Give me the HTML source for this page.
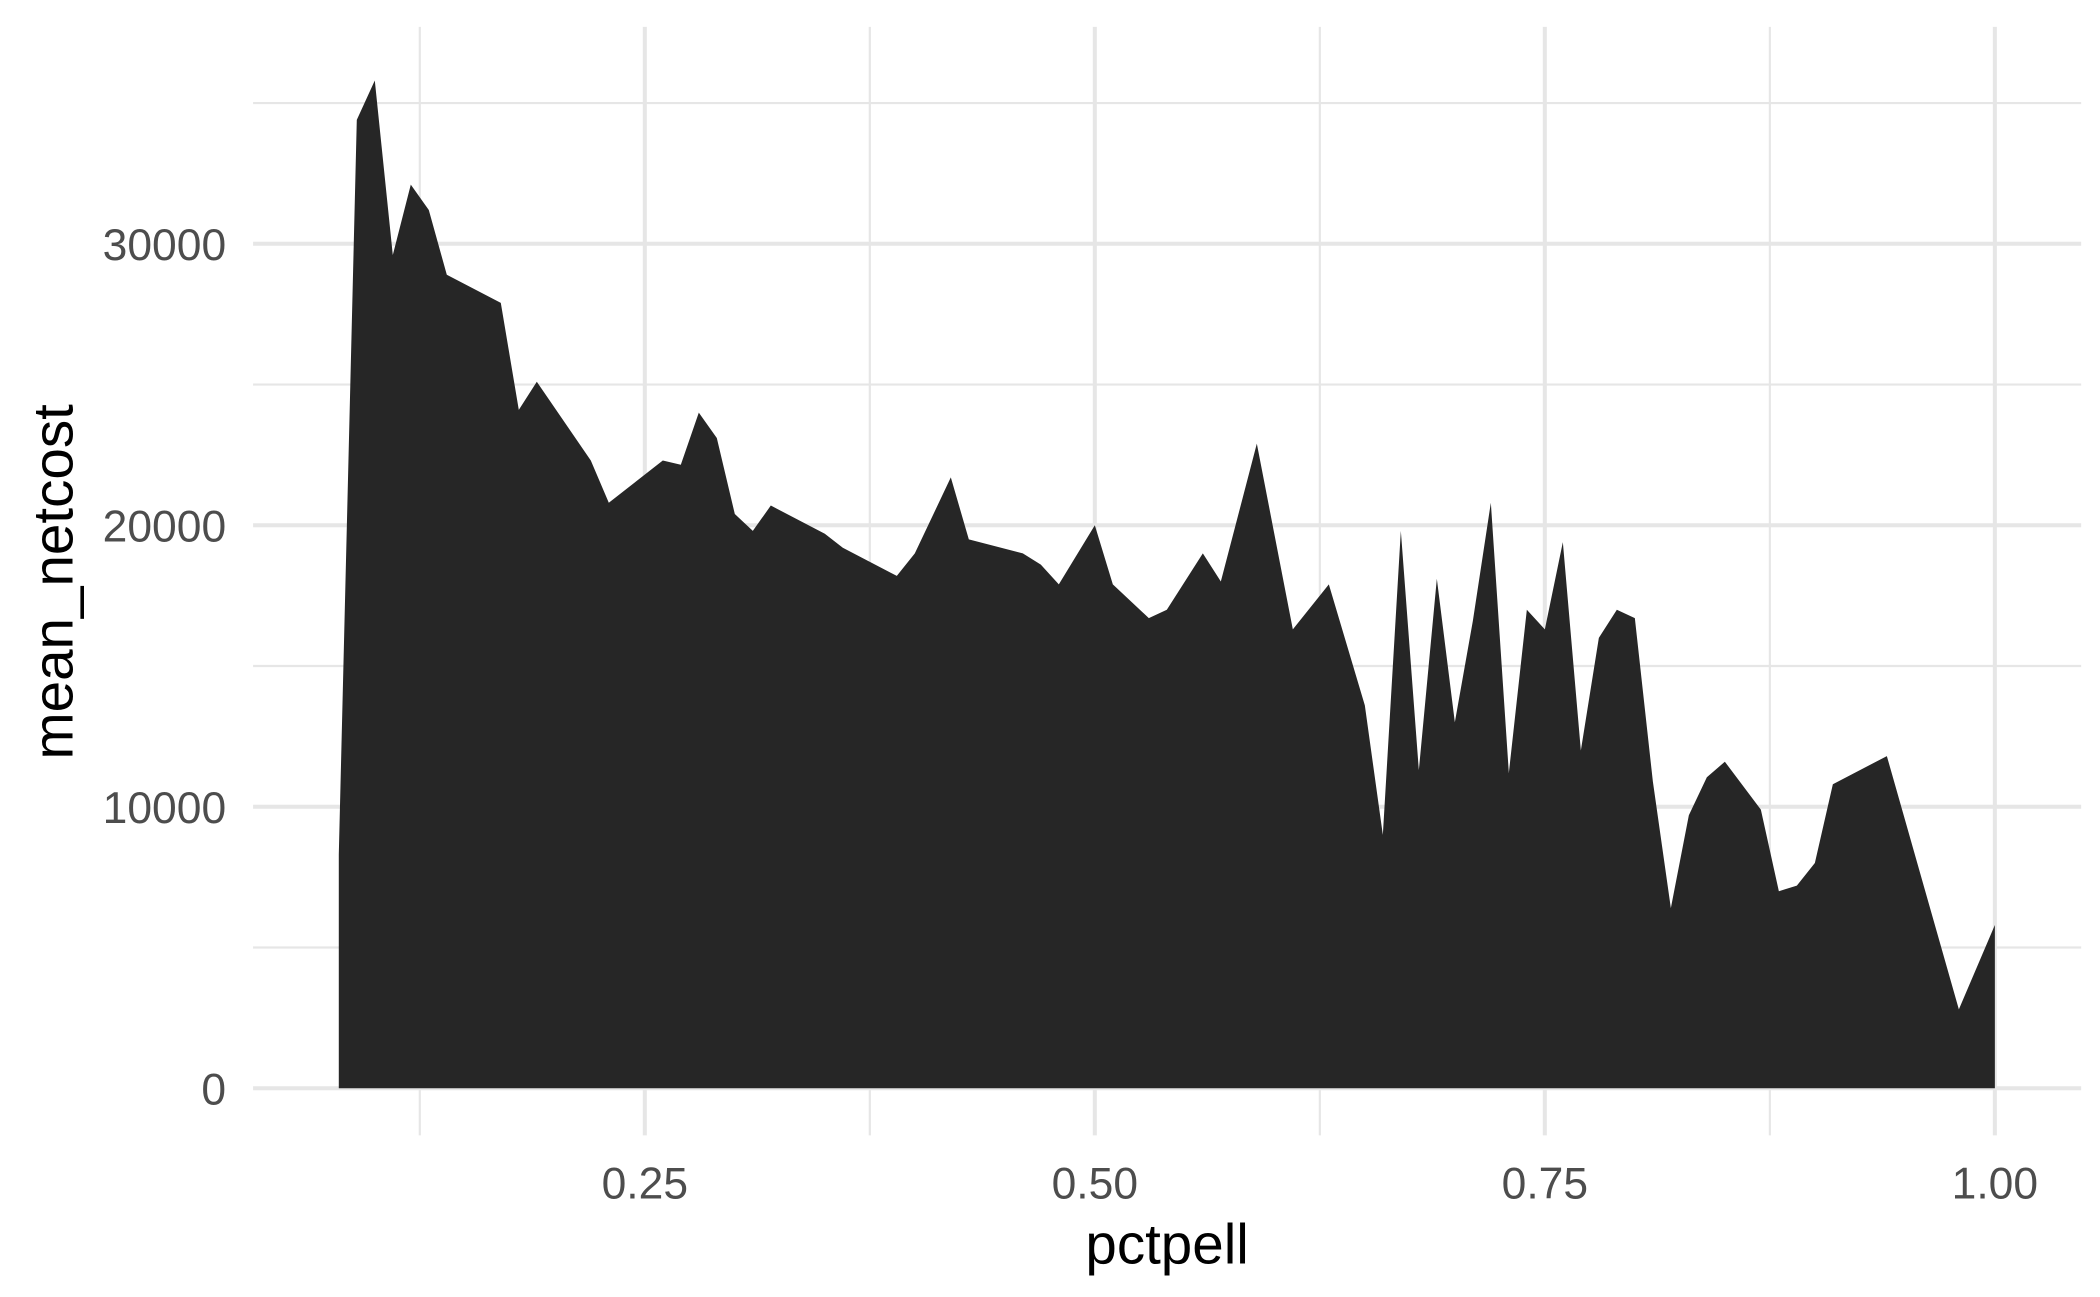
<!DOCTYPE html>
<html><head><meta charset="utf-8"><style>
html,body{margin:0;padding:0;background:#fff;}
svg{display:block;font-family:"Liberation Sans",sans-serif;}
</style></head><body>
<svg id="chart" width="2100" height="1297" viewBox="0 0 1560 963" preserveAspectRatio="none" xmlns="http://www.w3.org/2000/svg">
<g id="grid"></g>
<path id="area" fill="#262626"></path>
<g id="axes"></g>
<text x="867" y="938" text-anchor="middle" font-size="42" fill="#000">pctpell</text>
<text transform="translate(54,432) rotate(-90)" text-anchor="middle" font-size="42" fill="#000">mean_netcost</text>
</svg>
<script>
const pctpell = [0.08,0.09,0.10,0.11,0.12,0.13,0.14,0.17,0.18,0.19,0.22,0.23,0.26,0.27,0.28,0.29,0.30,0.31,0.32,0.35,0.36,0.39,0.40,0.42,0.43,0.46,0.47,0.48,0.50,0.51,0.53,0.54,0.56,0.57,0.59,0.61,0.63,0.65,0.66,0.67,0.68,0.69,0.70,0.71,0.72,0.73,0.74,0.75,0.76,0.77,0.78,0.79,0.80,0.81,0.82,0.83,0.84,0.85,0.87,0.88,0.89,0.90,0.91,0.94,0.98,1.00];
const meanNetcost = [8300,34400,35800,29600,32100,31200,28900,27900,24100,25100,22300,20800,22300,22150,24000,23100,20400,19800,20700,19700,19200,18200,19000,21700,19500,19000,18600,17900,20000,17900,16700,17000,19000,18000,22900,16300,17900,13600,9000,19800,11300,18100,13000,16600,20800,11200,17000,16300,19400,12000,16000,17000,16700,10900,6400,9700,11050,11600,9900,7000,7200,8000,10800,11800,2800,5800];
const xTicks = [0.25,0.50,0.75,1.00];
const xTickLabels = ["0.25","0.50","0.75","1.00"];
const xMinor = [0.125,0.375,0.625,0.875];
const yTicks = [0,10000,20000,30000];
const yTickLabels = ["0","10000","20000","30000"];
const yMinor = [5000,15000,25000,35000];

const X = v => 479 + (v - 0.25) * 1337.2;
const Y = v => 808 - v * 0.0209;
const NS = "http://www.w3.org/2000/svg";
const grid = document.getElementById('grid');
const axes = document.getElementById('axes');
const L = 188, R = 1546, T = 20, B = 843;
function line(x1,y1,x2,y2,w,name){
  const l=document.createElementNS(NS,'line');
  l.setAttribute('x1',x1);l.setAttribute('y1',y1);l.setAttribute('x2',x2);l.setAttribute('y2',y2);
  l.setAttribute('stroke','#e6e6e6');l.setAttribute('stroke-width',w);
  
  
  grid.appendChild(l);
}
xMinor.forEach(v=>line(X(v),T,X(v),B,1.6,'x-minor-gridline'));
yMinor.forEach(v=>line(L,Y(v),R,Y(v),1.6,'y-minor-gridline'));
xTicks.forEach(v=>line(X(v),T,X(v),B,3,'x-major-gridline'));
yTicks.forEach(v=>line(L,Y(v),R,Y(v),3,'y-major-gridline'));
function txt(x,y,s,anchor,name){
  const t=document.createElementNS(NS,'text');
  t.setAttribute('x',x);t.setAttribute('y',y);t.setAttribute('text-anchor',anchor);
  t.setAttribute('font-size','33');t.setAttribute('fill','#4d4d4d');
  t.textContent=s;
  
  
  axes.appendChild(t);
}
xTicks.forEach((v,i)=>txt(X(v),890,xTickLabels[i],'middle','x-tick-label'));
yTicks.forEach((v,i)=>txt(168,Y(v)+12,yTickLabels[i],'end','y-tick-label'));
let d = 'M' + X(pctpell[0]) + ',' + Y(0);
pctpell.forEach((p,i)=>{ d += ' L' + X(p) + ',' + Y(meanNetcost[i]); });
d += ' L' + X(pctpell[pctpell.length-1]) + ',' + Y(0) + ' Z';
document.getElementById('area').setAttribute('d', d);
</script>
</body></html>
